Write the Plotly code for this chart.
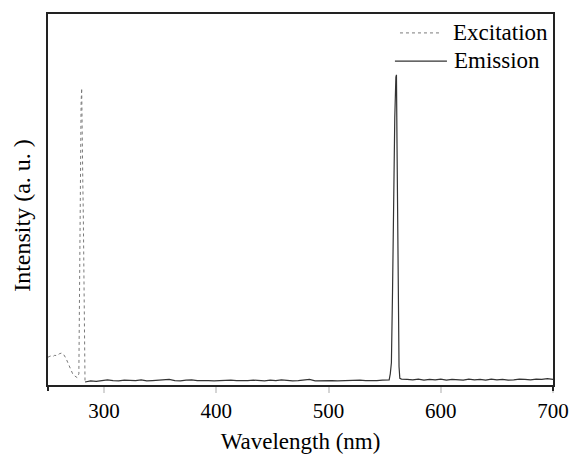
import plotly.graph_objects as go

# Excitation spectrum (wavelength nm, relative intensity)
exc_wl = [250, 252, 254, 256, 258, 260, 262, 264, 266, 268, 270, 272, 274, 276, 277.5,
          278, 278.5, 279, 279.5, 280, 280.5, 281, 281.5, 282, 282.5, 283]
exc_int = [0.075, 0.078, 0.076, 0.080, 0.079, 0.084, 0.086, 0.082, 0.072, 0.058, 0.042, 0.030,
           0.024, 0.020, 0.030, 0.30, 0.55, 0.70, 0.76, 0.80, 0.72, 0.55, 0.45, 0.25, 0.10, 0.005]

# Emission spectrum
em_wl = [283, 288, 293, 298, 303, 308, 313, 318, 323, 328, 333, 338, 343, 348, 353, 358, 363,
         368, 373, 378, 383, 388, 393, 398, 403, 408, 413, 418, 423, 428, 433, 438, 443, 448,
         453, 458, 463, 468, 473, 478, 483, 488, 493, 498, 503, 508, 513, 518, 523, 528, 533,
         538, 543, 548, 553,
         554, 555, 556, 557, 558, 559, 560, 560.5, 561, 562, 562.8, 563.5,
         565, 570, 575, 580, 585, 590, 595, 600, 605, 610, 615, 620, 625, 630, 635, 640, 645,
         650, 655, 660, 665, 670, 675, 680, 685, 690, 695, 700]
em_int = [0.008, 0.011, 0.010, 0.012, 0.014, 0.012, 0.011, 0.013, 0.012, 0.012, 0.014, 0.011,
          0.012, 0.013, 0.012, 0.015, 0.012, 0.011, 0.013, 0.014, 0.012, 0.013, 0.012, 0.011,
          0.012, 0.014, 0.013, 0.012, 0.011, 0.012, 0.013, 0.012, 0.011, 0.013, 0.012, 0.014,
          0.012, 0.011, 0.012, 0.013, 0.015, 0.011, 0.012, 0.013, 0.012, 0.011, 0.012, 0.013,
          0.012, 0.013, 0.012, 0.011, 0.012, 0.013, 0.014,
          0.014, 0.030, 0.060, 0.25, 0.50, 0.72, 0.83, 0.836, 0.65, 0.25, 0.05, 0.018,
          0.016, 0.015, 0.014, 0.016, 0.013, 0.015, 0.014, 0.016, 0.013, 0.015, 0.014, 0.013,
          0.016, 0.014, 0.015, 0.013, 0.016, 0.014, 0.015, 0.013, 0.014, 0.016, 0.015, 0.014,
          0.016, 0.015, 0.017, 0.015, 0.016]

x_ticks = [300, 400, 500, 600, 700]
series_names = ["Excitation", "Emission"]

FONT = "Liberation Serif"
EXC_STYLE = dict(color="#7a7a7a", width=1, dash="dot")
EM_STYLE = dict(color="#333333", width=1.2)

fig = go.Figure()
fig.add_trace(go.Scatter(x=exc_wl, y=exc_int, mode="lines", name=series_names[0],
                         line=EXC_STYLE, showlegend=False))
fig.add_trace(go.Scatter(x=em_wl, y=em_int, mode="lines", name=series_names[1],
                         line=EM_STYLE, showlegend=False))

fig.update_layout(
    width=570, height=454,
    margin=dict(l=48, r=17, t=14, b=69, autoexpand=False),
    paper_bgcolor="white", plot_bgcolor="white",
    font=dict(family=FONT, size=22, color="#000000"),
    showlegend=False,
    xaxis=dict(range=[250, 700], tickvals=x_ticks, ticks="outside", ticklen=6,
               tickwidth=2, tickcolor="#d5d5d5", showgrid=False, zeroline=False,
               showline=True, linecolor="#222222", linewidth=2, mirror=True,
               tickfont=dict(size=21), automargin=False,
               title=dict(text="Wavelength (nm)", font=dict(size=23), standoff=17)),
    yaxis=dict(range=[0, 1], showticklabels=False, ticks="", showgrid=False,
               zeroline=False, showline=True, linecolor="#222222", linewidth=2,
               mirror=True, automargin=False),
    annotations=[
        dict(text="Intensity (a. u. )", textangle=-90, xref="paper", yref="paper",
             x=-0.052, y=0.458, xanchor="center", yanchor="middle",
             showarrow=False, font=dict(size=24)),
        dict(text=series_names[0], xref="paper", yref="paper", x=0.798, y=0.949,
             xanchor="left", yanchor="middle", showarrow=False, font=dict(size=23)),
        dict(text=series_names[1], xref="paper", yref="paper", x=0.800, y=0.876,
             xanchor="left", yanchor="middle", showarrow=False, font=dict(size=23)),
    ],
    shapes=[
        dict(type="line", xref="paper", yref="paper", x0=0, x1=0, y0=0, y1=-0.016,
             line=dict(color="#222222", width=2)),
        dict(type="line", xref="paper", yref="paper", x0=1, x1=1, y0=0, y1=-0.016,
             line=dict(color="#222222", width=2)),
        # legend samples
        dict(type="line", xref="paper", yref="paper", x0=0.697, x1=0.778, y0=0.949, y1=0.949,
             line=EXC_STYLE),
        dict(type="line", xref="paper", yref="paper", x0=0.687, x1=0.790, y0=0.873, y1=0.873,
             line=EM_STYLE),
    ],
)

fig.write_html("out.html", config={"displayModeBar": False},
               post_script="document.body.style.margin='0';document.body.style.overflow='hidden';")
